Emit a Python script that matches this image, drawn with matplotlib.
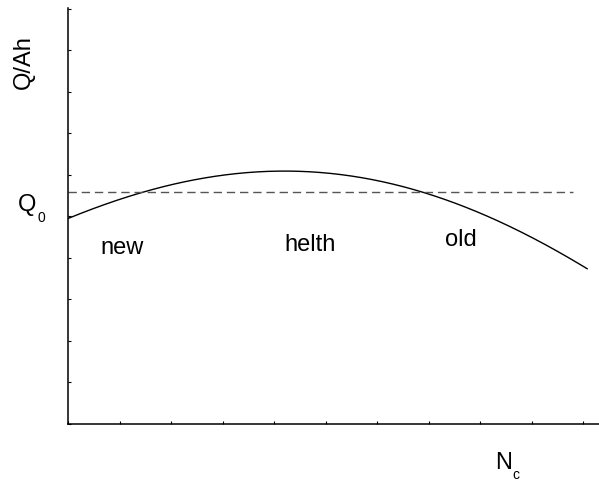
import matplotlib
matplotlib.use('Agg')
import matplotlib.pyplot as plt
import numpy as np

plt.rcParams['font.family'] = ['Liberation Sans', 'DejaVu Sans']

# Kapazitaetsverlauf ueber die Zyklenzahl
nc = [0, 0.62, 1.40, 2.43, 3.15, 3.86, 4.37, 5.09, 5.73, 6.39, 6.97, 7.67, 8.33, 8.97, 9.61, 10.08]
q = [4.92, 5.28, 5.58, 5.89, 5.99, 6.07, 6.06, 6.02, 5.95, 5.78, 5.58, 5.26, 4.90, 4.46, 4.06, 3.78]

# Referenzkapazitaet Q0
q0 = 5.59
q0_span = [0, 9.8]

# Bereiche
labels = ['new', 'helth', 'old']
label_x = [1.05, 4.7, 7.63]
label_y = [4.12, 4.2, 4.3]

fig = plt.figure(figsize=(5.99, 4.81), dpi=100)
ax = fig.add_axes([68/599, 56/481, 531/599, 416/481])

# glatte Kurve durch die Punkte
xs = np.linspace(nc[0], nc[-1], 300)
coef = np.polyfit(nc, q, 4)
ax.plot(xs, np.polyval(coef, xs), color='k', lw=1.0)

ax.plot(q0_span, [q0, q0], color='#555555', lw=1.0, dashes=(6, 3.5))

ax.set_xlim(0, 10.31)
ax.set_ylim(0, 10.02)
ax.set_xticks(np.arange(0, 11, 1))
ax.set_yticks(np.arange(0, 11, 1))
ax.tick_params(direction='in', length=2.5, width=0.8, labelbottom=False, labelleft=False)
ax.spines['top'].set_visible(False)
ax.spines['right'].set_visible(False)
ax.spines['left'].set_linewidth(1.1)
ax.spines['bottom'].set_linewidth(1.1)

for t, x, y in zip(labels, label_x, label_y):
    ax.text(x, y, t, fontsize=17, ha='center', va='baseline')

# Achsenbeschriftungen
fig.text(24/599, 1 - 62/481, 'Q/Ah', fontsize=17, rotation=90, ha='center', va='center')
fig.text(18/599, 1 - 211/481, 'Q', fontsize=17, ha='left', va='baseline')
fig.text(37/599, 1 - 222/481, '0', fontsize=10, ha='left', va='baseline')
fig.text(495/599, 1 - 469/481, 'N', fontsize=17, ha='left', va='baseline')
fig.text(512/599, 1 - 479/481, 'c', fontsize=10, ha='left', va='baseline')

fig.savefig('out.png', dpi=100)
